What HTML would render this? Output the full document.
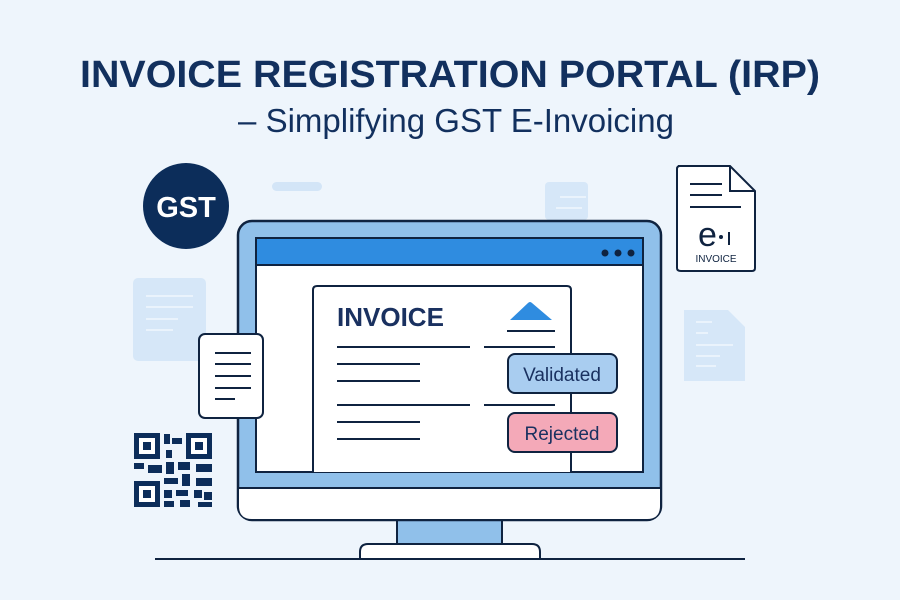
<!DOCTYPE html><html><head><style>body{margin:0;background:#eef5fc}svg{display:block}</style></head><body>
<svg width="900" height="600" viewBox="0 0 900 600" xmlns="http://www.w3.org/2000/svg" font-family="Liberation Sans, sans-serif">
<rect width="900" height="600" fill="#eef5fc"/>
<text x="450" y="87" text-anchor="middle" font-size="38" font-weight="bold" fill="#12305e" textLength="740" lengthAdjust="spacingAndGlyphs">INVOICE REGISTRATION PORTAL (IRP)</text>
<text x="456" y="132" text-anchor="middle" font-size="33" fill="#12305e">– Simplifying GST E-Invoicing</text>
<circle cx="186" cy="206" r="43" fill="#0c2d5a"/>
<text x="186" y="217" text-anchor="middle" font-size="29" font-weight="bold" fill="#fff">GST</text>
<rect x="272" y="182" width="50" height="9" rx="4.5" fill="#d3e5f7"/>
<rect x="133" y="278" width="73" height="83" rx="5" fill="#d6e7f8"/>
<g stroke="#eaf3fc" stroke-width="2"><line x1="146" y1="296" x2="193" y2="296"/><line x1="146" y1="307" x2="193" y2="307"/><line x1="146" y1="319" x2="178" y2="319"/><line x1="146" y1="330" x2="173" y2="330"/></g>
<rect x="545" y="182" width="43" height="38" rx="4" fill="#d6e7f8"/>
<g stroke="#eaf3fc" stroke-width="2"><line x1="560" y1="197" x2="586" y2="197"/><line x1="556" y1="208" x2="582" y2="208"/></g>
<path d="M684 310 H728 L745 327 V381 H684 Z" fill="#d6e7f8"/>
<g stroke="#eaf3fc" stroke-width="2"><line x1="696" y1="322" x2="712" y2="322"/><line x1="696" y1="333" x2="708" y2="333"/><line x1="696" y1="345" x2="733" y2="345"/><line x1="696" y1="356" x2="720" y2="356"/><line x1="696" y1="366" x2="716" y2="366"/></g>
<path d="M678 166 H730 L755 191 V268 Q755 271 752 271 H681 Q677 271 677 268 V169 Q677 166 680 166 Z" fill="#fff" stroke="#0f2340" stroke-width="2"/>
<path d="M730 166 V191 H755" fill="none" stroke="#0f2340" stroke-width="2"/>
<g stroke="#0f2340" stroke-width="2"><line x1="690" y1="184" x2="722" y2="184"/><line x1="690" y1="195" x2="722" y2="195"/><line x1="690" y1="207" x2="741" y2="207"/></g>
<text x="698" y="246" font-size="34" fill="#0f2340">e</text>
<circle cx="721" cy="237" r="2" fill="#0f2340"/><line x1="729" y1="232" x2="729" y2="245" stroke="#0f2340" stroke-width="2"/>
<text x="716" y="262" text-anchor="middle" font-size="10" fill="#0f2340">INVOICE</text>
<rect x="397" y="517" width="105" height="30" fill="#90c0ea" stroke="#0f2340" stroke-width="2"/>
<path d="M360 560 V552 Q360 544 368 544 H532 Q540 544 540 552 V560" fill="#fff" stroke="#0f2340" stroke-width="2"/>
<line x1="155" y1="559" x2="745" y2="559" stroke="#0f2340" stroke-width="2"/>
<rect x="238" y="221" width="423" height="299" rx="14" fill="#90c0ea" stroke="#0f2340" stroke-width="2.5"/>
<path d="M239 488 H660 V506 Q660 519 647 519 H252 Q239 519 239 506 Z" fill="#fff"/>
<line x1="239" y1="488" x2="660" y2="488" stroke="#0f2340" stroke-width="2"/>
<rect x="256" y="238" width="387" height="234" fill="#fff" stroke="#0f2340" stroke-width="2"/>
<rect x="256" y="238" width="387" height="27" fill="#2f8ce0" stroke="#0f2340" stroke-width="2"/>
<g fill="#0f2340"><circle cx="605" cy="253" r="3.5"/><circle cx="618" cy="253" r="3.5"/><circle cx="631" cy="253" r="3.5"/></g>
<path d="M313 472 V290 Q313 286 317 286 H567 Q571 286 571 290 V472" fill="#fff" stroke="#0f2340" stroke-width="2"/>
<text x="337" y="326" font-size="26" font-weight="bold" fill="#1a3160">INVOICE</text>
<path d="M510 320 L528 303 Q530 301 532 303 L552 320 Z" fill="#2f8ce0"/>
<g stroke="#0f2340" stroke-width="2"><line x1="507" y1="331" x2="555" y2="331"/><line x1="337" y1="347" x2="470" y2="347"/><line x1="484" y1="347" x2="555" y2="347"/><line x1="337" y1="364" x2="420" y2="364"/><line x1="337" y1="381" x2="420" y2="381"/><line x1="337" y1="405" x2="470" y2="405"/><line x1="484" y1="405" x2="555" y2="405"/><line x1="337" y1="422" x2="420" y2="422"/><line x1="337" y1="439" x2="420" y2="439"/></g>
<rect x="508" y="354" width="109" height="39" rx="7" fill="#a9cdf0" stroke="#0f2340" stroke-width="2"/>
<text x="562" y="381" text-anchor="middle" font-size="19" fill="#1a3160">Validated</text>
<rect x="508" y="413" width="109" height="39" rx="7" fill="#f4a9b8" stroke="#0f2340" stroke-width="2"/>
<text x="562" y="440" text-anchor="middle" font-size="19" fill="#1a3160">Rejected</text>
<rect x="199" y="334" width="64" height="84" rx="6" fill="#fff" stroke="#0f2340" stroke-width="2"/>
<g stroke="#0f2340" stroke-width="2"><line x1="215" y1="353" x2="251" y2="353"/><line x1="215" y1="364" x2="251" y2="364"/><line x1="215" y1="376" x2="251" y2="376"/><line x1="215" y1="388" x2="251" y2="388"/><line x1="215" y1="399" x2="235" y2="399"/></g>
<g fill="#0c2d5a">
<rect x="134" y="433" width="26" height="26"/><rect x="186" y="433" width="26" height="26"/><rect x="134" y="481" width="26" height="26"/>
<rect x="164" y="434" width="6" height="10"/><rect x="172" y="438" width="10" height="6"/><rect x="166" y="450" width="6" height="8"/>
<rect x="134" y="463" width="10" height="6"/><rect x="148" y="465" width="14" height="8"/><rect x="166" y="462" width="8" height="12"/><rect x="178" y="462" width="12" height="8"/><rect x="196" y="464" width="16" height="8"/>
<rect x="164" y="478" width="14" height="6"/><rect x="182" y="474" width="8" height="12"/><rect x="196" y="478" width="16" height="8"/>
<rect x="164" y="490" width="8" height="8"/><rect x="176" y="490" width="12" height="6"/><rect x="194" y="490" width="8" height="8"/><rect x="204" y="492" width="8" height="8"/>
<rect x="164" y="501" width="10" height="6"/><rect x="180" y="500" width="10" height="7"/><rect x="198" y="502" width="14" height="5"/>
</g>
<g fill="#fff"><rect x="139" y="438" width="16" height="16"/><rect x="191" y="438" width="16" height="16"/><rect x="139" y="486" width="16" height="16"/></g>
<g fill="#0c2d5a"><rect x="143" y="442" width="8" height="8"/><rect x="195" y="442" width="8" height="8"/><rect x="143" y="490" width="8" height="8"/></g>
</svg></body></html>
